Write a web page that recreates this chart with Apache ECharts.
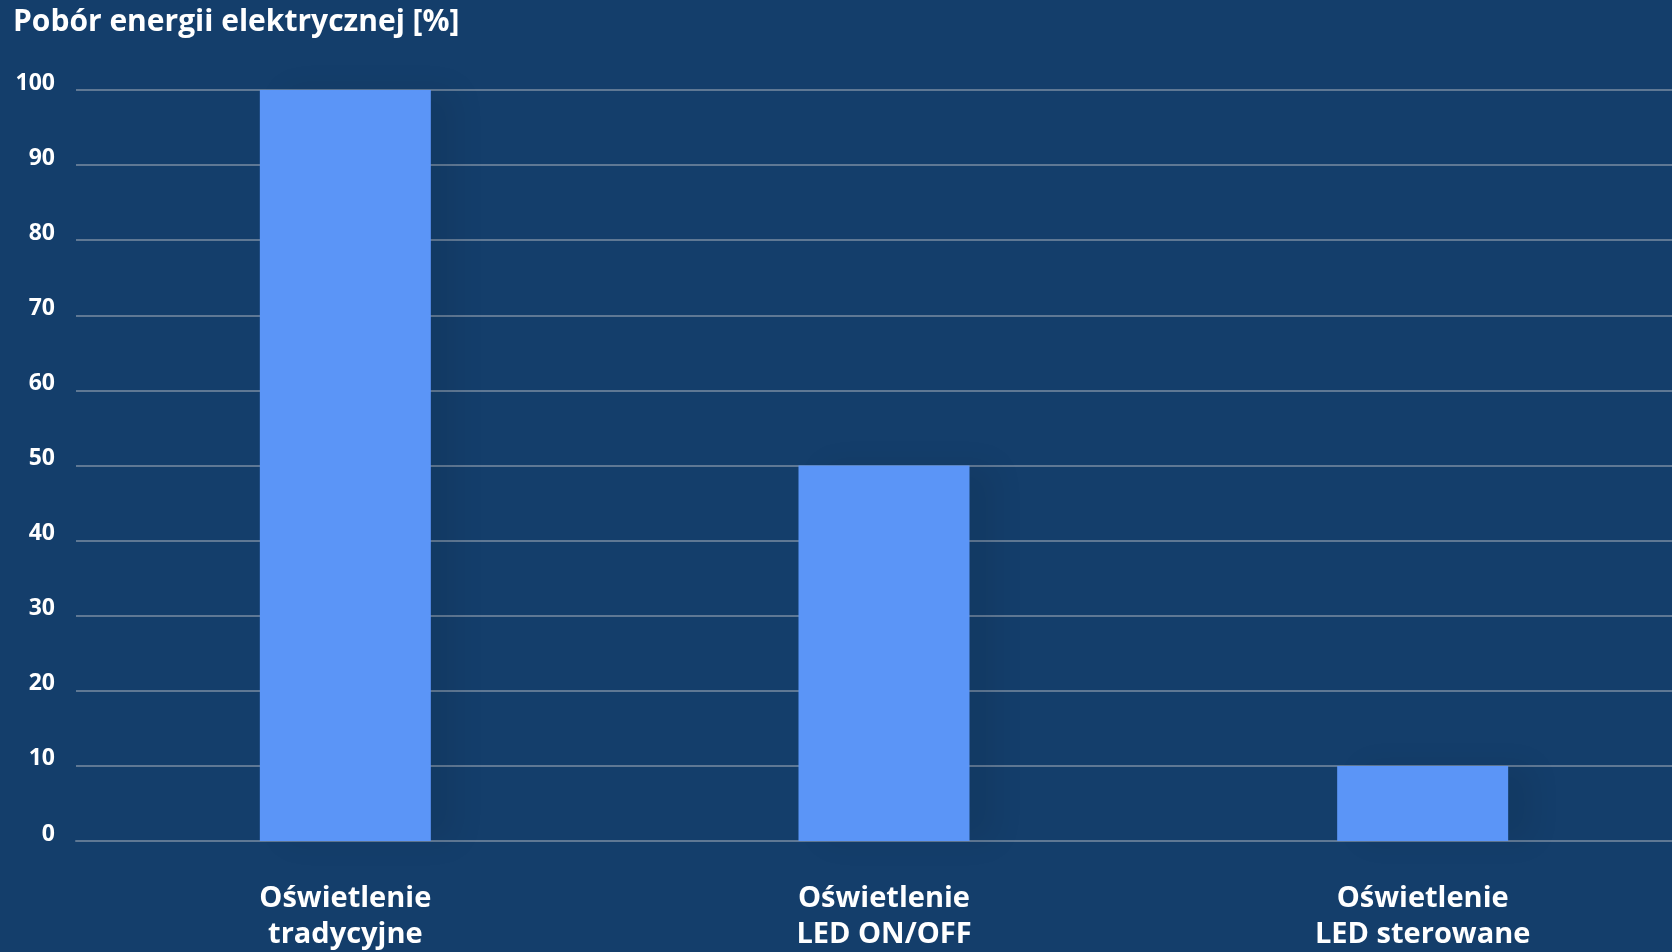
<!DOCTYPE html>
<html>
<head>
<meta charset="utf-8">
<script src="https://cdn.jsdelivr.net/npm/echarts@6/dist/echarts.min.js"></script>
<style>
html,body{margin:0;padding:0;background:#143E6B;}
#c{width:1672px;height:952px;}
</style>
</head>
<body>
<div id="c"></div>
<script>
const titleText = 'Pobór energii elektrycznej [%]';
const categories = ['Oświetlenie\ntradycyjne', 'Oświetlenie\nLED ON/OFF', 'Oświetlenie\nLED sterowane'];
const values = [100, 50, 10];
const yMin = 0, yMax = 100, yStep = 10;

const chart = echarts.init(document.getElementById('c'), null, {renderer: 'canvas'});
chart.setOption({
  backgroundColor: '#143E6B',
  animation: false,
  title: {
    text: titleText,
    left: 13, top: 7, padding: 0,
    textStyle: {color: '#ffffff', fontFamily: 'Open Sans', fontWeight: 700, fontSize: 30, lineHeight: 30}
  },
  grid: {left: 76, width: 1616, top: 90, bottom: 111, containLabel: false, outerBoundsMode: 'none'},
  xAxis: {
    type: 'category',
    data: categories,
    axisLine: {show: true, lineStyle: {color: '#5F7894', width: 2}},
    axisTick: {show: false},
    axisLabel: {
      color: '#ffffff', fontFamily: 'Open Sans', fontWeight: 700, fontSize: 29,
      lineHeight: 36, margin: 40, interval: 0
    }
  },
  yAxis: {
    type: 'value',
    min: yMin, max: yMax, interval: yStep,
    axisLine: {show: false},
    axisTick: {show: false},
    splitLine: {show: true, lineStyle: {color: '#5F7894', width: 2}},
    axisLabel: {
      color: '#ffffff', fontFamily: 'Open Sans', fontWeight: 700, fontSize: 23,
      margin: 21, verticalAlign: 'bottom', lineHeight: 14
    }
  },
  series: [{
    type: 'bar',
    data: values,
    barWidth: 171,
    itemStyle: {color: '#5B95F7', shadowColor: 'rgba(0,0,0,0.07)', shadowBlur: 30, shadowOffsetX: 25}
  }]
});
</script>
</body>
</html>
